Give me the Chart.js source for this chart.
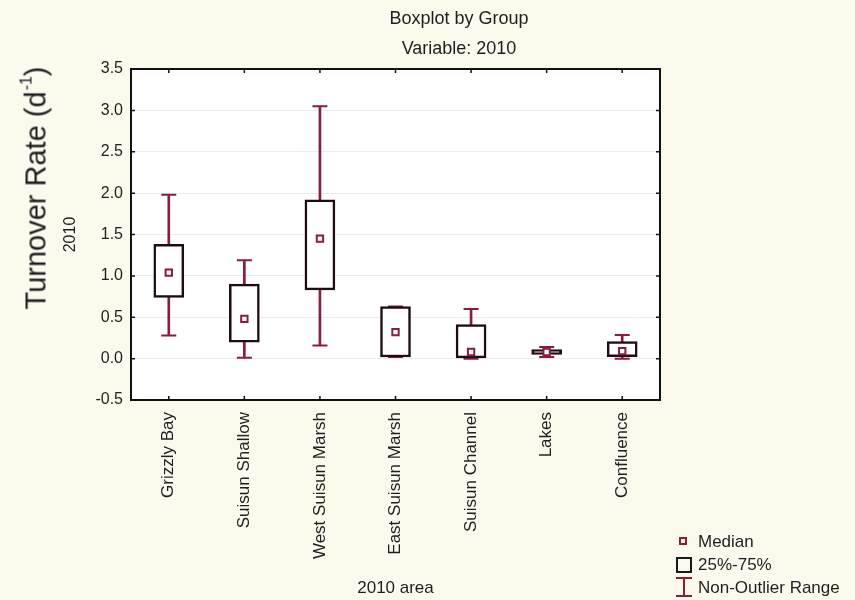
<!DOCTYPE html>
<html>
<head>
<meta charset="utf-8">
<script src="https://cdn.jsdelivr.net/npm/chart.js@4.4.1/dist/chart.umd.min.js"></script>
<style>
html, body { margin: 0; padding: 0; background: #fcf9ed; }
#wrap { position: relative; width: 855px; height: 600px; font-family: "Liberation Sans", Arial, sans-serif; color: #1e1e1e; }
#chart { position: absolute; left: 0; top: 0; }
.title { position: absolute; white-space: nowrap; transform: translateX(-50%); font-size: 18px; line-height: 18px; }
#ylabel { position: absolute; left: 38px; top: 188px; white-space: nowrap; font-size: 29px; line-height: 29px;
          transform: translate(-50%, -50%) rotate(-90deg); }
#ylabel sup { font-size: 16px; position: relative; top: -0.9em; vertical-align: baseline; margin-left: 1px; }
.legend-text { position: absolute; left: 698px; font-size: 17px; line-height: 17px; white-space: nowrap; }
.icon { position: absolute; box-sizing: border-box; }
</style>
</head>
<body>
<div id="wrap">
  <canvas id="chart" width="855" height="600"></canvas>
  <div class="title" style="left:459px; top:9px;">Boxplot by Group</div>
  <div class="title" style="left:459px; top:39px;">Variable: 2010</div>
  <div id="ylabel">Turnover Rate (d<sup>-1</sup>)</div>

  <div class="icon" style="left:679px; top:537px; width:8px; height:8px; border:2px solid #8a1c3c;"></div>
  <div class="legend-text" style="top:533px;">Median</div>
  <div class="icon" style="left:676px; top:557px; width:16px; height:16px; border:2px solid #1a1a1a;"></div>
  <div class="legend-text" style="top:556px;">25%-75%</div>
  <div class="icon" style="left:676px; top:577px; width:16px; height:2px; background:#8a1c3c;"></div>
  <div class="icon" style="left:683px; top:577px; width:2px; height:20px; background:#8a1c3c;"></div>
  <div class="icon" style="left:676px; top:595px; width:16px; height:2px; background:#8a1c3c;"></div>
  <div class="legend-text" style="top:579px;">Non-Outlier Range</div>
</div>
<script>
const categories = ["Grizzly Bay", "Suisun Shallow", "West Suisun Marsh", "East Suisun Marsh",
                    "Suisun Channel", "Lakes", "Confluence"];
const minValues    = [0.28, 0.01, 0.16, 0.02, 0.00, 0.02, 0.00];
const q1Values     = [0.74, 0.20, 0.83, 0.02, 0.01, 0.05, 0.025];
const medianValues = [1.04, 0.48, 1.45, 0.32, 0.08, 0.08, 0.09];
const q3Values     = [1.38, 0.90, 1.92, 0.63, 0.41, 0.11, 0.205];
const maxValues    = [1.98, 1.19, 3.05, 0.63, 0.60, 0.14, 0.285];
const yTickValues  = [-0.5, 0.0, 0.5, 1.0, 1.5, 2.0, 2.5, 3.0, 3.5];

const MAROON = "#8a1c3c";
const DARK = "#1e0c10";
const FONT = "'Liberation Sans', Arial, sans-serif";

// white plot area, then frame and inward tick marks like the original
const plotFrame = {
    id: "plotFrame",
    beforeDraw(chart) {
        const {ctx, chartArea: a} = chart;
        ctx.save();
        ctx.fillStyle = "#ffffff";
        ctx.fillRect(a.left, a.top, a.right - a.left, a.bottom - a.top);
        ctx.restore();
    },
    afterDatasetsDraw(chart) {
        const {ctx, chartArea: a, scales} = chart;
        ctx.save();
        ctx.strokeStyle = "#111";
        ctx.lineWidth = 1.5;
        ctx.beginPath();
        scales.x.ticks.forEach((t, i) => {
            const px = scales.x.getPixelForTick(i);
            ctx.moveTo(px, a.bottom); ctx.lineTo(px, a.bottom - 4);
            ctx.moveTo(px, a.top); ctx.lineTo(px, a.top + 4);
        });
        scales.y.ticks.forEach((t) => {
            const py = scales.y.getPixelForValue(t.value);
            ctx.moveTo(a.left, py); ctx.lineTo(a.left + 4, py);
            ctx.moveTo(a.right, py); ctx.lineTo(a.right - 4, py);
        });
        ctx.stroke();
        ctx.lineWidth = 2;
        ctx.strokeRect(a.left, a.top, a.right - a.left, a.bottom - a.top);
        ctx.restore();
    }
};

const capDataset = (values) => ({
    type: "line",
    data: values,
    showLine: false,
    pointStyle: "line",
    pointRadius: 7.5,
    pointBorderWidth: 2,
    pointBorderColor: MAROON,
    borderColor: MAROON,
    order: 4
});

new Chart(document.getElementById("chart"), {
    type: "bar",
    data: {
        labels: categories,
        datasets: [
            {
                type: "bar",
                data: categories.map((c, i) => [minValues[i], maxValues[i]]),
                backgroundColor: MAROON,
                borderWidth: 0,
                barThickness: 2,
                grouped: false,
                order: 5
            },
            capDataset(maxValues),
            capDataset(minValues),
            {
                type: "bar",
                data: categories.map((c, i) => [q1Values[i], q3Values[i]]),
                backgroundColor: "#ffffff",
                borderColor: DARK,
                borderWidth: 2.5,
                borderSkipped: false,
                barThickness: 30,
                grouped: false,
                order: 3
            },
            {
                type: "line",
                data: medianValues,
                showLine: false,
                pointStyle: "rect",
                pointRadius: 4.5,
                pointBorderWidth: 2,
                pointBorderColor: MAROON,
                pointBackgroundColor: "#ffffff",
                borderColor: MAROON,
                order: 1
            }
        ]
    },
    options: {
        responsive: false,
        animation: false,
        layout: {padding: {left: 63, right: 195, top: 69, bottom: 3.5}},
        plugins: {
            legend: {display: false},
            tooltip: {enabled: false}
        },
        scales: {
            x: {
                type: "category",
                offset: true,
                grid: {display: false, drawTicks: false},
                border: {display: false},
                ticks: {
                    autoSkip: false,
                    minRotation: 90,
                    maxRotation: 90,
                    padding: 12,
                    color: "#1e1e1e",
                    font: {family: FONT, size: 17}
                },
                title: {
                    display: true,
                    text: "2010 area",
                    color: "#1e1e1e",
                    padding: 0,
                    font: {family: FONT, size: 17, lineHeight: 1}
                },
                afterFit(scale) { scale.height = 196.5; }
            },
            y: {
                min: -0.5,
                max: 3.5,
                afterBuildTicks(scale) {
                    scale.ticks = yTickValues.map((v) => ({value: v}));
                },
                grid: {color: "#ececec", lineWidth: 1, drawTicks: false},
                border: {display: false},
                ticks: {
                    padding: 8,
                    color: "#1e1e1e",
                    font: {family: FONT, size: 16},
                    callback: (v) => Number(v).toFixed(1)
                },
                title: {
                    display: true,
                    text: "2010",
                    color: "#1e1e1e",
                    padding: 0,
                    font: {family: FONT, size: 16, lineHeight: 1}
                },
                afterFit(scale) { scale.width = 68; }
            }
        }
    },
    plugins: [plotFrame]
});
</script>
</body>
</html>
